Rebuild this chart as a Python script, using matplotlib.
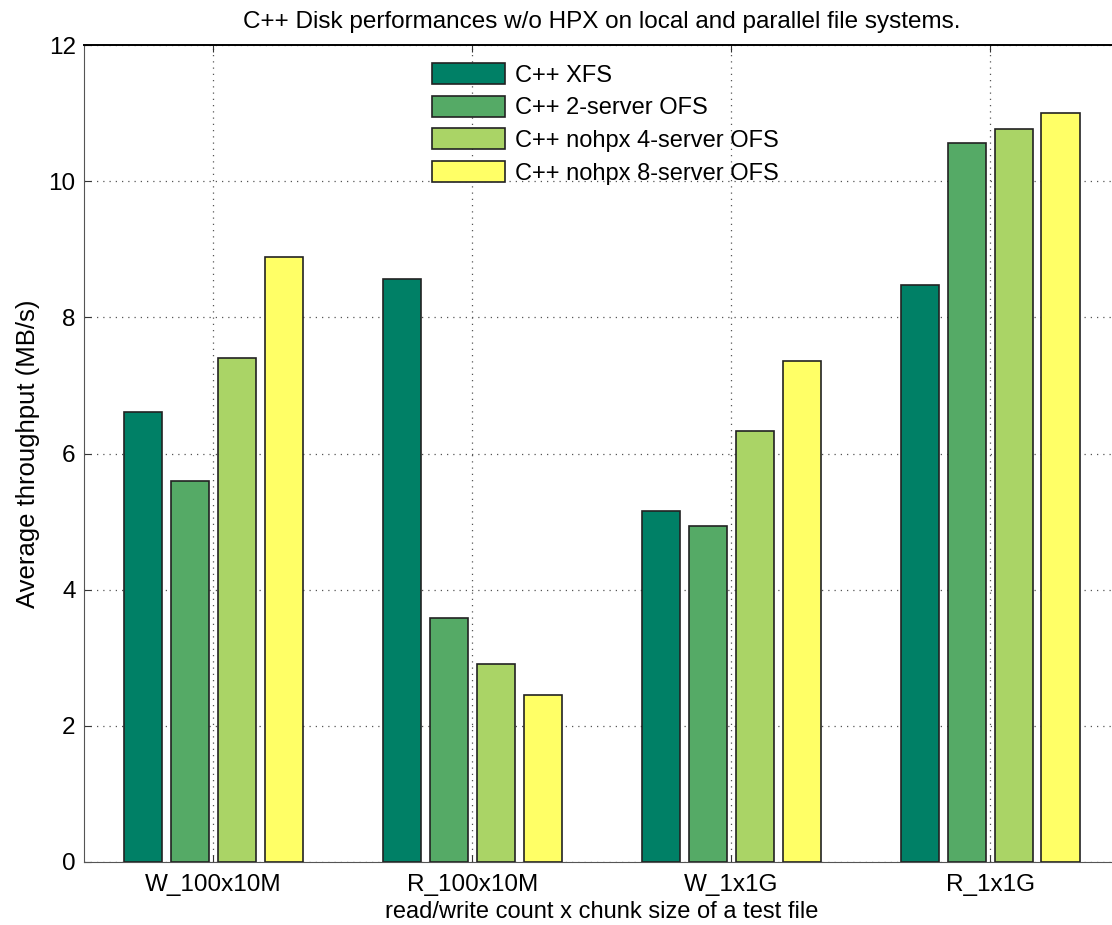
import matplotlib
matplotlib.use("Agg")
import matplotlib.pyplot as plt
import numpy as np

plt.rcParams['font.family'] = ['Liberation Sans', 'DejaVu Sans']

categories = ["W_100x10M", "R_100x10M", "W_1x1G", "R_1x1G"]
series_names = ["C++ XFS", "C++ 2-server OFS", "C++ nohpx 4-server OFS", "C++ nohpx 8-server OFS"]
xfs = [6.61, 8.57, 5.16, 8.48]
ofs2 = [5.59, 3.58, 4.94, 10.56]
ofs4 = [7.40, 2.91, 6.33, 10.77]
ofs8 = [8.89, 2.45, 7.36, 11.00]
colors = ["#008066", "#55aa66", "#aad466", "#ffff66"]

fig = plt.figure(figsize=(11.12, 9.25), dpi=100)
W, H = 1112, 925
ax = fig.add_axes([84 / W, (H - 862) / H, 1035.5 / W, 817 / H])

x = np.arange(1, len(categories) + 1)
offsets = [-0.272, -0.0907, 0.0907, 0.272]
bw = 0.147
for vals, off, c, name in zip([xfs, ofs2, ofs4, ofs8], offsets, colors, series_names):
    ax.bar(x + off, vals, width=bw, color=c, edgecolor="#222222", linewidth=1.2, label=name, zorder=3)

ax.set_xlim(0.5, 4.5)
ax.set_ylim(0, 12)
ax.set_yticks(range(0, 13, 2))
ax.set_xticks(x)
ax.set_xticklabels(categories)
ax.tick_params(direction="in", length=5, labelsize=17.5, top=True, right=False, colors="#333333", labelcolor="black")
ax.tick_params(axis="x", pad=9)
ax.tick_params(axis="y", pad=6)
ax.grid(True, linestyle=(0, (1, 4)), color="#555555", linewidth=0.9, zorder=0)
ax.set_axisbelow(True)
for s in ["left", "bottom"]:
    ax.spines[s].set_color("#555555")
ax.spines["top"].set_color("black")
ax.spines["top"].set_linewidth(1.4)
ax.spines["right"].set_visible(False)

ax.set_title("C++ Disk performances w/o HPX on local and parallel file systems.", fontsize=17.5, pad=12)
ax.set_ylabel("Average throughput (MB/s)", fontsize=18.5, labelpad=6)
ax.set_xlabel("read/write count x chunk size of a test file", fontsize=17, labelpad=3)

leg = ax.legend(loc="upper left", bbox_to_anchor=((432 - 84) / 1035.5, 1 - (63 - 45) / 817),
                frameon=False, fontsize=17, handlelength=3.1, handleheight=1.0,
                labelspacing=0.38, handletextpad=0.42, borderaxespad=0, borderpad=0)

fig.savefig("out.png", dpi=100)
